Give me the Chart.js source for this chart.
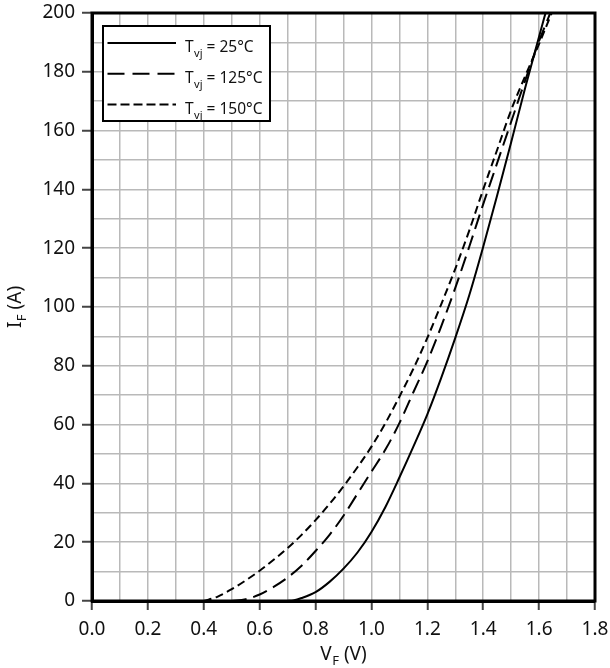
<!DOCTYPE html>
<html><head><meta charset="utf-8">
<script src="https://cdn.jsdelivr.net/npm/chart.js@4"></script>
<style>html,body{margin:0;padding:0;background:#fff}canvas{display:block}</style>
</head><body>
<canvas id="c" width="610" height="668"></canvas>
<script>
// ---- data ----
const vf25  = [0.70,0.72,0.75,0.80,0.85,0.90,0.95,1.00,1.05,1.10,1.15,1.20,1.25,1.30,1.35,1.40,1.45,1.50,1.55,1.60,1.623];
const if25  = [0,0.2,1.0,3.0,6.5,11,16.5,23.5,32,42,52.5,63.5,76,89.5,104,120.5,138,156,174.5,192,200];
const vf125 = [0.50,0.55,0.60,0.65,0.70,0.75,0.80,0.85,0.90,0.95,1.00,1.05,1.10,1.15,1.20,1.25,1.30,1.35,1.40,1.45,1.50,1.55,1.60,1.64];
const if125 = [0,0.6,2.2,4.8,8,12,17,22.5,29,36.5,44,51.5,60.5,71,81.5,93.5,106.5,120.5,135,149,163,177,190.5,200];
const vf150 = [0.40,0.45,0.50,0.55,0.60,0.65,0.70,0.75,0.80,0.85,0.90,0.95,1.00,1.05,1.10,1.15,1.20,1.25,1.30,1.35,1.40,1.45,1.50,1.55,1.60,1.645];
const if150 = [0,1.5,4,7,10.3,14,18,22.5,27.5,33,39,45.5,52.5,60.5,69.5,79,89.5,101,113,126,140,153.5,167,178.5,189.5,200];
const temps = ['25°C','125°C','150°C'];
const xMin = 0, xMax = 1.8, xStep = 0.1, xLabelEvery = 2;
const yMin = 0, yMax = 200, yStep = 10, yLabelEvery = 2;

const FONT = 'Noto Sans';
const dashes = [[], [15,7], [8,4.5]];
const legendDashes = [[], [17,8], [9,4]];
function pts(xs, ys){ return xs.map((v,i)=>({x:v, y:ys[i]})); }
const series = [pts(vf25,if25), pts(vf125,if125), pts(vf150,if150)];

const datasets = series.map((d,i)=>({
  label: 'Tvj = ' + temps[i],
  data: d,
  borderColor: '#000',
  borderWidth: 2,
  borderDash: dashes[i],
  pointRadius: 0,
  fill: false,
  cubicInterpolationMode: 'monotone'
}));

function drawSubText(ctx, x, y, main, sub, rest, size, subSize, subDy){
  ctx.font = size + 'px "' + FONT + '"';
  ctx.fillText(main, x, y);
  x += ctx.measureText(main).width;
  ctx.font = subSize + 'px "' + FONT + '"';
  ctx.fillText(sub, x + 0.5, y + subDy);
  x += ctx.measureText(sub).width + 0.5;
  ctx.font = size + 'px "' + FONT + '"';
  ctx.fillText(rest, x, y);
}
function subTextWidth(ctx, main, sub, rest, size, subSize){
  ctx.font = size + 'px "' + FONT + '"';
  let w = ctx.measureText(main).width + ctx.measureText(rest).width;
  ctx.font = subSize + 'px "' + FONT + '"';
  return w + ctx.measureText(sub).width + 0.5;
}

const framePlugin = {
  id: 'frame',
  afterDatasetsDraw(chart){
    const {ctx, chartArea:a} = chart;
    ctx.save();
    ctx.strokeStyle = '#000';
    ctx.lineWidth = 3;
    ctx.strokeRect(a.left, a.top, a.right - a.left, a.bottom - a.top);
    // legend box
    const bx = a.left + 11, by = a.top + 13, bw = 167, bh = 95;
    ctx.fillStyle = '#fff';
    ctx.fillRect(bx, by, bw, bh);
    ctx.lineWidth = 2;
    ctx.strokeRect(bx, by, bw, bh);
    chart.data.datasets.forEach((ds, i) => {
      const ly = by + 17 + i * 30.8;
      ctx.beginPath();
      ctx.setLineDash(legendDashes[i]);
      ctx.lineWidth = 2;
      ctx.moveTo(bx + 4.5, ly);
      ctx.lineTo(bx + 73, ly);
      ctx.stroke();
      ctx.setLineDash([]);
      ctx.fillStyle = '#111';
      ctx.textBaseline = 'alphabetic';
      ctx.textAlign = 'left';
      drawSubText(ctx, bx + 82, ly + 9, 'T', 'vj', ' = ' + temps[i], 15.5, 11, 5);
    });
    ctx.restore();
  },
  afterDraw(chart){
    const {ctx, chartArea:a} = chart;
    ctx.save();
    ctx.fillStyle = '#111';
    ctx.textBaseline = 'alphabetic';
    ctx.textAlign = 'left';
    // x title
    const cx = (a.left + a.right) / 2;
    const wx = subTextWidth(ctx, 'V', 'F', ' (V)', 19, 13);
    drawSubText(ctx, cx - wx/2, 660, 'V', 'F', ' (V)', 19, 13, 5);
    // y title
    const cy = (a.top + a.bottom) / 2;
    const wy = subTextWidth(ctx, 'I', 'F', ' (A)', 19, 13);
    ctx.translate(21, cy);
    ctx.rotate(-Math.PI/2);
    drawSubText(ctx, -wy/2, 0, 'I', 'F', ' (A)', 19, 13, 5);
    ctx.restore();
  }
};

new Chart(document.getElementById('c'), {
  type: 'line',
  data: { datasets },
  options: {
    responsive: false,
    animation: false,
    devicePixelRatio: 1,
    layout: { padding: { top: 13, right: 15, left: 0, bottom: 0 } },
    plugins: { legend: { display: false }, tooltip: { enabled: false } },
    scales: {
      x: {
        type: 'linear', min: xMin, max: xMax,
        afterFit(s){ s.height = 67; s.paddingLeft = 0; s.paddingRight = 0; },
        ticks: {
          stepSize: xStep, autoSkip: false, maxRotation: 0, minRotation: 0,
          padding: 8, color: '#111', font: { family: FONT, size: 19 },
          callback: (v, i) => i % xLabelEvery === 0 ? Number(v).toFixed(1) : ''
        },
        grid: {
          color: '#b9b9b9', lineWidth: 1.5, tickLength: 9, tickWidth: 2,
          tickColor: c => c.index % xLabelEvery === 0 ? '#444' : 'rgba(0,0,0,0)'
        },
        border: { display: true, color: '#000', width: 3 }
      },
      y: {
        type: 'linear', min: yMin, max: yMax,
        afterFit(s){ s.width = 92; s.paddingTop = 0; s.paddingBottom = 0; },
        ticks: {
          stepSize: yStep, autoSkip: false, padding: 7, color: '#111',
          font: { family: FONT, size: 19 },
          callback: (v, i) => i % yLabelEvery === 0 ? String(v) : ''
        },
        grid: {
          color: '#b9b9b9', lineWidth: 1.5, tickLength: 10, tickWidth: 2,
          tickColor: c => c.index % yLabelEvery === 0 ? '#444' : 'rgba(0,0,0,0)'
        },
        border: { display: true, color: '#000', width: 3 }
      }
    }
  },
  plugins: [framePlugin]
});
</script>
</body></html>
